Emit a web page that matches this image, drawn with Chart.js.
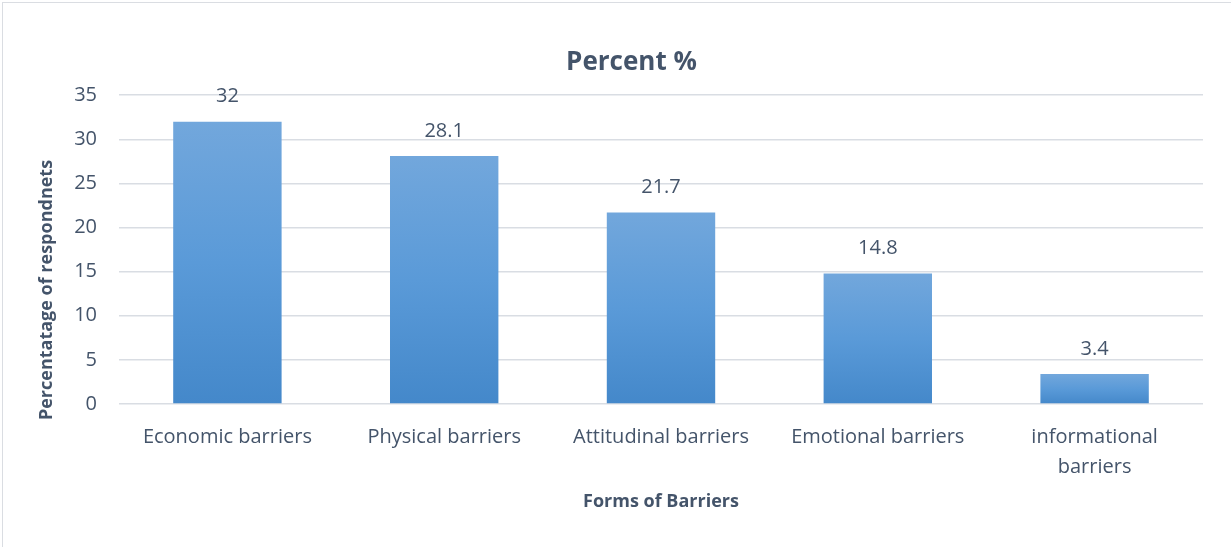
<!DOCTYPE html>
<html>
<head>
<meta charset="utf-8">
<title>Percent %</title>
<script src="https://cdn.jsdelivr.net/npm/chart.js@4/dist/chart.umd.min.js"></script>
<style>
  html, body { margin: 0; padding: 0; background: #fff; }
  #wrap { position: relative; width: 1231px; height: 547px; overflow: hidden; }
  #frame {
    position: absolute; left: 2px; top: 2px; width: 1240px; height: 560px;
    border: 1.5px solid #dadde2; pointer-events: none;
  }
  canvas { position: absolute; left: 0; top: 0; }
</style>
</head>
<body>
<div id="wrap">
  <canvas id="barrierChart" width="1231" height="547"></canvas>
  <div id="frame"></div>
</div>
<script>
const categories = [
  'Economic barriers',
  'Physical barriers',
  'Attitudinal barriers',
  'Emotional barriers',
  ['informational', 'barriers']
];
const percentValues = [32, 28.1, 21.7, 14.8, 3.4];
const yTicks = [0, 5, 10, 15, 20, 25, 30, 35];

const textColor = '#44546a';
const fontFamily = '"Open Sans", "Noto Sans", sans-serif';

// value printed above each bar
const valueLabels = {
  id: 'valueLabels',
  afterDatasetsDraw(chart) {
    const { ctx } = chart;
    const meta = chart.getDatasetMeta(0);
    ctx.save();
    ctx.font = '20px ' + fontFamily;
    ctx.fillStyle = textColor;
    ctx.textAlign = 'center';
    ctx.textBaseline = 'middle';
    meta.data.forEach((bar, i) => {
      ctx.fillText(String(percentValues[i]), bar.x, bar.y - 25);
    });
    ctx.restore();
  }
};

// vertical axis title, drawn a little below the plot centre
const yAxisTitle = {
  id: 'yAxisTitle',
  afterDraw(chart) {
    const { ctx } = chart;
    ctx.save();
    ctx.translate(47, 290);
    ctx.rotate(-Math.PI / 2);
    ctx.font = 'bold 18px ' + fontFamily;
    ctx.fillStyle = textColor;
    ctx.textAlign = 'center';
    ctx.textBaseline = 'middle';
    ctx.fillText('Percentatage of respondnets', 0, 0);
    ctx.restore();
  }
};

function barGradient(c) {
  const chart = c.chart;
  const { ctx, chartArea, scales } = chart;
  if (!chartArea) return '#5b9bd5';
  const top = scales.y.getPixelForValue(c.raw);
  const base = scales.y.getPixelForValue(0);
  const g = ctx.createLinearGradient(0, top, 0, base);
  g.addColorStop(0, '#72a7dc');
  g.addColorStop(0.5, '#5a9ad8');
  g.addColorStop(1, '#4488ca');
  return g;
}

new Chart(document.getElementById('barrierChart').getContext('2d'), {
  type: 'bar',
  data: {
    labels: categories,
    datasets: [{
      label: 'Percent %',
      data: percentValues,
      backgroundColor: barGradient,
      borderWidth: 0,
      categoryPercentage: 1,
      barPercentage: 0.5
    }]
  },
  options: {
    responsive: false,
    animation: false,
    layout: {
      padding: { left: 60, right: 28, top: 47, bottom: 0 }
    },
    plugins: {
      legend: { display: false },
      tooltip: { enabled: false },
      title: {
        display: true,
        text: 'Percent %',
        color: textColor,
        font: { family: fontFamily, size: 26, weight: 'bold', lineHeight: 1.2 },
        padding: { top: 0, bottom: 17 }
      }
    },
    scales: {
      x: {
        grid: { display: false },
        border: { display: false },
        ticks: {
          color: textColor,
          font: { family: fontFamily, size: 20, lineHeight: 1.5 },
          padding: 10,
          maxRotation: 0,
          autoSkip: false
        },
        title: {
          display: true,
          text: 'Forms of Barriers',
          color: textColor,
          font: { family: fontFamily, size: 18, weight: 'bold', lineHeight: 1.2 },
          padding: { top: 11, bottom: 34 }
        },
        afterFit(scale) {
          scale.height = 143;
        }
      },
      y: {
        min: 0,
        max: 35,
        afterBuildTicks(scale) {
          scale.ticks = yTicks.map(v => ({ value: v }));
        },
        grid: {
          color: '#d9dde3',
          lineWidth: 1.5,
          drawTicks: false
        },
        border: { display: false },
        ticks: {
          color: textColor,
          font: { family: fontFamily, size: 20 },
          padding: 22
        },
        afterFit(scale) {
          scale.width = 59;
        }
      }
    }
  },
  plugins: [valueLabels, yAxisTitle]
});
</script>
</body>
</html>
